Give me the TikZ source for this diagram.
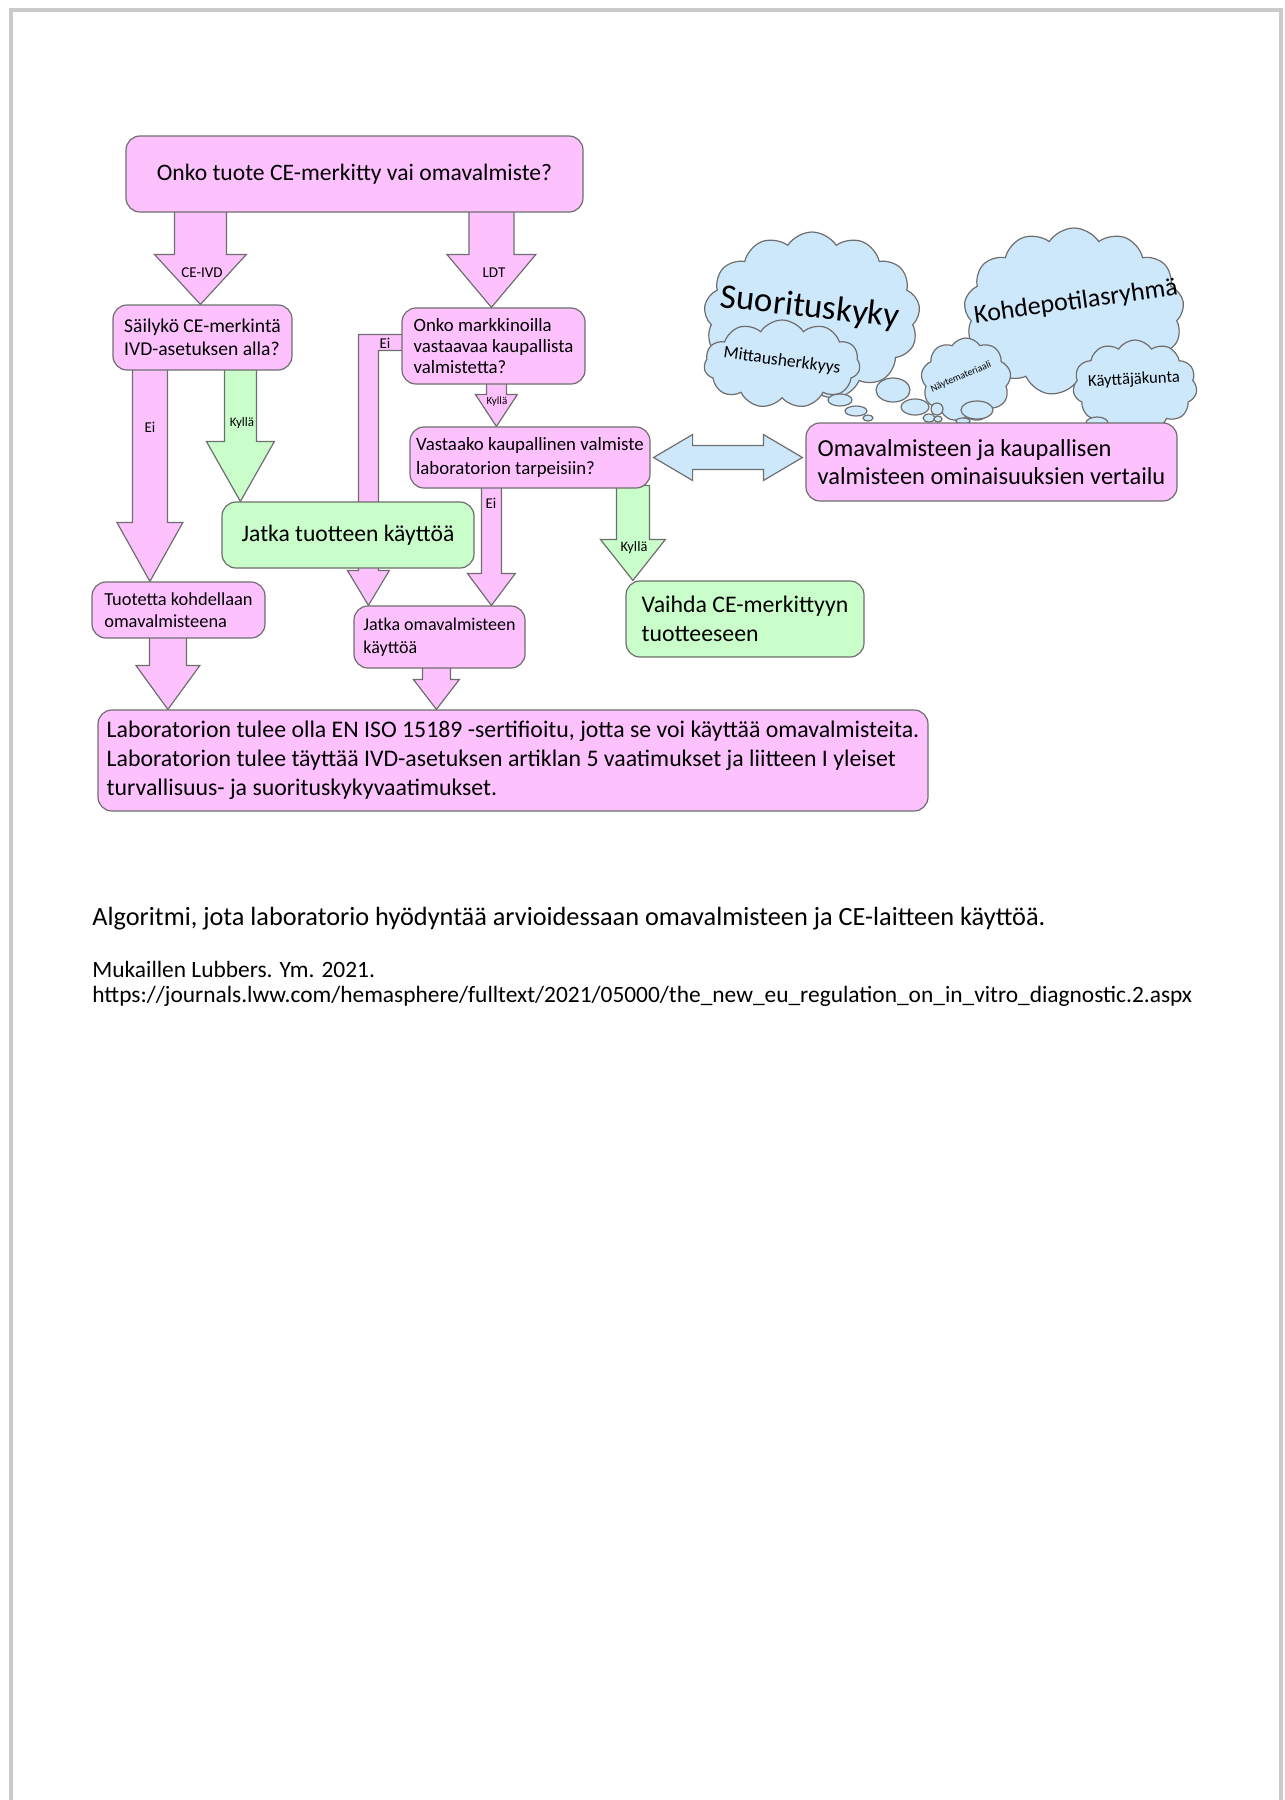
\documentclass[tikz,border=0pt]{standalone}
\usepackage{fontspec}
\setmainfont{Carlito}
\usetikzlibrary{calc,shapes.symbols,shapes.geometric}
\definecolor{pinkf}{HTML}{FDC2FD}
\definecolor{greenf}{HTML}{C9FDC9}
\definecolor{bluef}{HTML}{CDE8FA}
\definecolor{edgec}{HTML}{6E6E6E}
\definecolor{framec}{HTML}{CACACA}
\newcommand\fsz[2]{\fontsize{#1}{#2}\selectfont}
\newcommand\dnarrow[6]{%
  \draw[#1] let \p1=#2, \p2=#3 in
    (\x1-#4,\y1) -- (\x1-#4,\y2+#6) -- (\x1-#5,\y2+#6) -- (\x1,\y2)
    -- (\x1+#5,\y2+#6) -- (\x1+#4,\y2+#6) -- (\x1+#4,\y1) -- cycle;}
\pgfdeclarelayer{background}
\pgfsetlayers{background,main}
\begin{document}
\begin{tikzpicture}[x=0.5pt,y=-0.5pt,
  pbox/.style={draw=edgec,line width=0.6pt,rounded corners=7pt,fill=pinkf,inner sep=0pt,align=left},
  gbox/.style={pbox,fill=greenf},
  parr/.style={draw=edgec,line width=0.6pt,fill=pinkf},
  garr/.style={parr,fill=greenf},
  barr/.style={parr,fill=bluef},
  cloudst/.style={cloud,cloud puffs=#1,cloud puff arc=115,cloud ignores aspect,draw=edgec,line width=0.6pt,fill=bluef,inner sep=0pt},
  bubble/.style={ellipse,draw=edgec,line width=0.6pt,fill=bluef,inner sep=0pt},
  lbl/.style={inner sep=0pt,font=\fsz{7.5}{9}},
  tiny/.style={inner sep=0pt,font=\fsz{6.5}{7}},
  ctext/.style={inner sep=0pt}]
\useasboundingbox (0,0) rectangle (1285,1800);
\draw[framec,line width=1.8pt] (11,1800) -- (11,10) -- (1281,10) -- (1281,1800);

% boxes
\node[pbox,minimum width=228.5pt,minimum height=38pt,font=\fsz{11.8}{14}] (top) at (354.5,174) {Onko tuote CE-merkitty vai omavalmiste?};
\node[pbox,minimum width=89.5pt,minimum height=32.5pt,font=\fsz{9.8}{11.5}] (sail) at (202.5,337.5) {Säilykö CE-merkintä\\IVD-asetuksen alla?};
\node[pbox,minimum width=91.5pt,minimum height=38pt,font=\fsz{9.4}{10.5}] (markk) at (493.5,346) {Onko markkinoilla\\vastaavaa kaupallista\\valmistetta?};
\node[pbox,minimum width=120pt,minimum height=30.5pt,font=\fsz{9.4}{12}] (vast) at (530,457.5) {Vastaako kaupallinen valmiste\\laboratorion tarpeisiin?};
\node[gbox,minimum width=126pt,minimum height=33pt,font=\fsz{11.8}{14}] (jatkat) at (348,535) {Jatka tuotteen käyttöä};
\node[pbox,minimum width=86.5pt,minimum height=28pt,font=\fsz{9.2}{11}] (tuot) at (178.5,610) {Tuotetta kohdellaan\\omavalmisteena};
\node[pbox,minimum width=85.5pt,minimum height=31pt,font=\fsz{9}{11.5}] (jatkao) at (439.5,637) {Jatka omavalmisteen\\käyttöä};
\node[gbox,minimum width=119pt,minimum height=38pt,font=\fsz{11.9}{14.4}] (vaihda) at (745,619) {Vaihda CE-merkittyyn\\tuotteeseen};
\node[pbox,minimum width=415pt,minimum height=50.5pt,font=\fsz{11.9}{14.4}] (lab) at (513,760.5) {Laboratorion tulee olla EN ISO 15189 -sertifioitu, jotta se voi käyttää omavalmisteita.\\Laboratorion tulee täyttää IVD-asetuksen artiklan 5 vaatimukset ja liitteen I yleiset\\turvallisuus- ja suorituskykyvaatimukset.};

% clouds
\node[cloudst=13,minimum width=108pt,minimum height=84pt] (csuor) at (812,316) {};
\node[cloudst=11,minimum width=78pt,minimum height=44pt] (cmitt) at (782,364) {};
\node[cloudst=13,minimum width=110pt,minimum height=84pt] (ckohd) at (1074,312) {};
\node[cloudst=9,minimum width=45pt,minimum height=42pt] (cnayt) at (966,380) {};
\node[cloudst=11,minimum width=62pt,minimum height=46pt] (ckayt) at (1135,386) {};
\node[bubble,minimum width=12pt,minimum height=6pt] (b1) at (840,400) {};
\node[bubble,minimum width=11pt,minimum height=5pt] (b2) at (856,411) {};
\node[bubble,minimum width=5pt,minimum height=3pt] (b3) at (868,418) {};
\node[bubble,minimum width=17pt,minimum height=12pt] (b4) at (893,390) {};
\node[bubble,minimum width=14pt,minimum height=8pt] (b5) at (915,407) {};
\node[bubble,minimum width=6pt,minimum height=6pt] (b6) at (937,409) {};
\node[bubble,minimum width=6pt,minimum height=4pt] (b7) at (929,418) {};
\node[bubble,minimum width=4pt,minimum height=3pt] (b8) at (938,419) {};
\node[bubble,minimum width=16pt,minimum height=9pt] (b9) at (977,410) {};
\node[bubble,minimum width=7pt,minimum height=3pt] (b10) at (963,421) {};
\node[bubble,minimum width=11pt,minimum height=6pt] (b11) at (1097,423) {};
\node[ctext,rotate=-6.5,font=\fsz{17.4}{20}] (tsuor) at (810,308) {Suorituskyky};
\node[ctext,rotate=-7.5,font=\fsz{8.8}{10}] (tmitt) at (782,361) {Mittausherkkyys};
\node[ctext,rotate=8,font=\fsz{13}{14}] (tkohd) at (1076,302) {Kohdepotilasryhmä};
\node[ctext,rotate=23,font=\fsz{5}{6}] (tnayt) at (961,377) {Näytemateriaali};
\node[ctext,rotate=3,font=\fsz{8.3}{10}] (tkayt) at (1134,380) {Käyttäjäkunta};

\node[pbox,minimum width=185.5pt,minimum height=39pt,font=\fsz{12.2}{13.8}] (omav) at (991.5,462) {Omavalmisteen ja kaupallisen\\valmisteen ominaisuuksien vertailu};

% arrows
\begin{pgfonlayer}{background}
\dnarrow{parr}{($(top.south west)+(75,-3)$)}{(sail.north)}{13pt}{23pt}{25pt}
\dnarrow{parr}{($(top.south west)+(366,-3)$)}{(markk.north)}{11.25pt}{22.25pt}{26.5pt}
\dnarrow{parr}{($(sail.south west)+(37.5,-3)$)}{(tuot.north)}{8.75pt}{16.5pt}{29.5pt}
\dnarrow{garr}{($(sail.south west)+(128,-3)$)}{(jatkat.north)}{8pt}{17pt}{30pt}
\dnarrow{parr}{($(markk.south west)+(95,-3)$)}{(vast.north)}{5pt}{10.5pt}{16pt}
\dnarrow{parr}{($(vast.south west)+(82,-3)$)}{(jatkao.north)}{5pt}{12pt}{16pt}
\dnarrow{garr}{($(vast.south west)+(223.5,-3)$)}{(vaihda.north)}{8.25pt}{16.25pt}{20.5pt}
\dnarrow{parr}{($(tuot.south west)+(76.5,-3)$)}{(lab.north)}{9.25pt}{16pt}{22pt}
\dnarrow{parr}{($(jatkao.south west)+(83,-3)$)}{(lab.north)}{7pt}{11.5pt}{15pt}
\draw[parr] let \p1=(markk.north west), \p2=(jatkao.north west) in
  (\x1+1pt,\y1-13.5pt) -- (\x2+2.5pt,\y1-13.5pt) -- (\x2+2.5pt,\y2+17.5pt)
  -- (\x2-3pt,\y2+17.5pt) -- (\x2+7.5pt,\y2) -- (\x2+18pt,\y2+17.5pt)
  -- (\x2+12.5pt,\y2+17.5pt) -- (\x2+12.5pt,\y1-21.5pt) -- (\x1+1pt,\y1-21.5pt) -- cycle;
\draw[barr] let \p1=(vast.east), \p2=(omav.west) in
  (\x1+1.5pt,\y1) -- (\x1+21pt,\y1+11.5pt) -- (\x1+21pt,\y1+6pt) -- (\x2-21pt,\y1+6pt)
  -- (\x2-21pt,\y1+11.5pt) -- (\x2-1.5pt,\y1) -- (\x2-21pt,\y1-11.5pt) -- (\x2-21pt,\y1-6pt)
  -- (\x1+21pt,\y1-6pt) -- (\x1+21pt,\y1-11.5pt) -- cycle;
\end{pgfonlayer}

% arrow labels
\node[lbl] (l1) at (202,273) {CE-IVD};
\node[lbl] (l2) at (494,273) {LDT};
\node[lbl] (l3) at (150,427) {Ei};
\node[tiny] (l4) at (242,423) {Kyllä};
\node[lbl] (l5) at (385,343) {Ei};
\node[tiny,font=\fsz{5.5}{6}] (l6) at (497,402) {Kyllä};
\node[lbl] (l7) at (491,503) {Ei};
\node[lbl,font=\fsz{7.2}{9}] (l8) at (634,548) {Kyllä};

% caption
\node[anchor=west,inner sep=0pt,font=\fsz{13.15}{15}] (cap) at (92,919) {Algoritmi, jota laboratorio hyödyntää arvioidessaan omavalmisteen ja CE-laitteen käyttöä.};
\node[anchor=west,inner sep=0pt,font=\fsz{11.7}{13}] (ref1) at (92,969) {Mukaillen Lubbers. Ym. 2021.};
\node[anchor=west,inner sep=0pt,font=\fsz{11.7}{13}] (ref2) at (92,996) {https://journals.lww.com/hemasphere/fulltext/2021/05000/the\_new\_eu\_regulation\_on\_in\_vitro\_diagnostic.2.aspx};
\end{tikzpicture}
\end{document}
